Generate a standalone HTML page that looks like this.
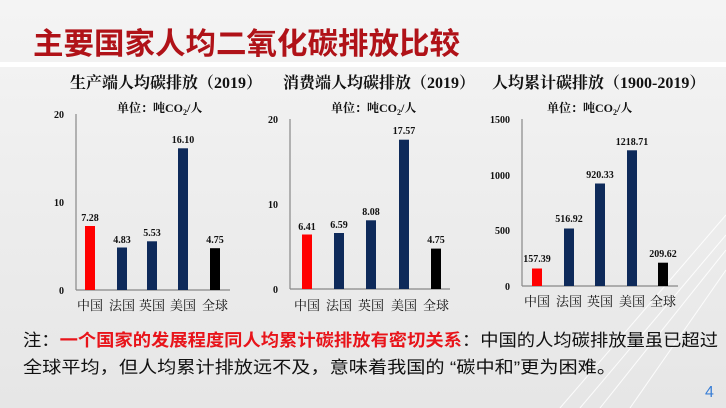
<!DOCTYPE html>
<html><head><meta charset="utf-8"><style>
body{margin:0;width:726px;height:408px;overflow:hidden;background:linear-gradient(180deg,#f4f4f4,#e6e6e6);}
svg{display:block}
text{font-family:"Liberation Serif","Noto Serif CJK SC",serif;}
.s{font-family:"Liberation Sans","Noto Sans CJK SC",sans-serif;}
</style></head><body>
<svg width="726" height="408" viewBox="0 0 726 408">
<g stroke="#fff" stroke-width="1" opacity="0.9">
<line x1="726" y1="215" x2="560" y2="408"/>
<line x1="726" y1="235" x2="580" y2="408"/>
<line x1="726" y1="250" x2="600" y2="408"/>
<line x1="726" y1="270" x2="630" y2="408"/>
</g>
<rect x="0" y="62" width="726" height="5" fill="#fff"/>
<text x="33" y="54" class="s" font-size="30" font-weight="bold" fill="#b01218" textLength="427" lengthAdjust="spacingAndGlyphs">主要国家人均二氧化碳排放比较</text>
<g font-size="16" font-weight="bold" fill="#111">
<text x="70" y="88">生产端人均碳排放（2019）</text>
<text x="283" y="88">消费端人均碳排放（2019）</text>
<text x="492" y="88">人均累计碳排放（1900-2019）</text>
</g>
<g font-size="12" font-weight="bold" fill="#111">
<text x="117" y="112">单位：吨CO<tspan font-size="8" dy="3">2</tspan><tspan dy="-3">/人</tspan></text>
<text x="331" y="112">单位：吨CO<tspan font-size="8" dy="3">2</tspan><tspan dy="-3">/人</tspan></text>
<text x="547" y="112">单位：吨CO<tspan font-size="8" dy="3">2</tspan><tspan dy="-3">/人</tspan></text>
</g>
<g stroke="#888" stroke-width="1.2">
<line x1="76" y1="114" x2="76" y2="290"/><line x1="76" y1="290" x2="230" y2="290"/>
<line x1="290" y1="119" x2="290" y2="289"/><line x1="290" y1="289" x2="450" y2="289"/>
<line x1="522" y1="119" x2="522" y2="286"/><line x1="522" y1="286" x2="678" y2="286"/>
</g>
<g font-size="10" font-weight="bold" fill="#111" text-anchor="end">
<text x="64" y="118">20</text><text x="64" y="206">10</text><text x="64" y="294">0</text>
<text x="278" y="123">20</text><text x="278" y="208">10</text><text x="278" y="293">0</text>
<text x="510" y="123">1500</text><text x="510" y="179">1000</text><text x="510" y="234">500</text><text x="510" y="290">0</text>
</g>
<rect x="85" y="226" width="10" height="64" fill="#ff0000"/>
<rect x="117" y="247.5" width="10" height="42.5" fill="#0e2a5a"/>
<rect x="147" y="241.3" width="10" height="48.7" fill="#0e2a5a"/>
<rect x="178" y="148.3" width="10" height="141.7" fill="#0e2a5a"/>
<rect x="210" y="248.2" width="10" height="41.8" fill="#000"/>
<rect x="302" y="234.5" width="10" height="54.5" fill="#ff0000"/>
<rect x="334" y="233" width="10" height="56" fill="#0e2a5a"/>
<rect x="366" y="220.3" width="10" height="68.7" fill="#0e2a5a"/>
<rect x="399" y="139.7" width="10" height="149.3" fill="#0e2a5a"/>
<rect x="431" y="248.6" width="10" height="40.4" fill="#000"/>
<rect x="532" y="268.5" width="10" height="17.5" fill="#ff0000"/>
<rect x="564" y="228.5" width="10" height="57.5" fill="#0e2a5a"/>
<rect x="595" y="183.5" width="10" height="102.5" fill="#0e2a5a"/>
<rect x="627" y="150.3" width="10" height="135.7" fill="#0e2a5a"/>
<rect x="658" y="262.7" width="10" height="23.3" fill="#000"/>
<g font-size="10" font-weight="bold" fill="#111" text-anchor="middle">
<text x="90" y="221">7.28</text><text x="122" y="243">4.83</text><text x="152" y="236">5.53</text><text x="183" y="143">16.10</text><text x="215" y="243">4.75</text>
<text x="307" y="230">6.41</text><text x="339" y="228">6.59</text><text x="371" y="215">8.08</text><text x="404" y="134">17.57</text><text x="436" y="243">4.75</text>
<text x="537" y="262">157.39</text><text x="569" y="222">516.92</text><text x="600" y="178">920.33</text><text x="632" y="145">1218.71</text><text x="663" y="257">209.62</text>
</g>
<g class="s" font-size="13" fill="#111" text-anchor="middle">
<text x="90" y="310">中国</text><text x="122" y="310">法国</text><text x="152" y="310">英国</text><text x="183" y="310">美国</text><text x="215" y="310">全球</text>
<text x="307" y="310">中国</text><text x="339" y="310">法国</text><text x="371" y="310">英国</text><text x="404" y="310">美国</text><text x="436" y="310">全球</text>
<text x="537" y="306">中国</text><text x="569" y="306">法国</text><text x="600" y="306">英国</text><text x="632" y="306">美国</text><text x="663" y="306">全球</text>
</g>
<text x="23" y="346" class="s" font-size="17" fill="#111" textLength="695" lengthAdjust="spacingAndGlyphs">注：<tspan fill="#e8141a" font-weight="bold">一个国家的发展程度同人均累计碳排放有密切关系</tspan>：中国的人均碳排放量虽已超过</text>
<text x="23" y="373" class="s" font-size="17" fill="#111" textLength="593" lengthAdjust="spacingAndGlyphs">全球平均，但人均累计排放远不及，意味着我国的  “碳中和”更为困难。</text>
<text x="705" y="397" class="s" font-size="16" fill="#3a7fd6">4</text>
</svg>
</body></html>
